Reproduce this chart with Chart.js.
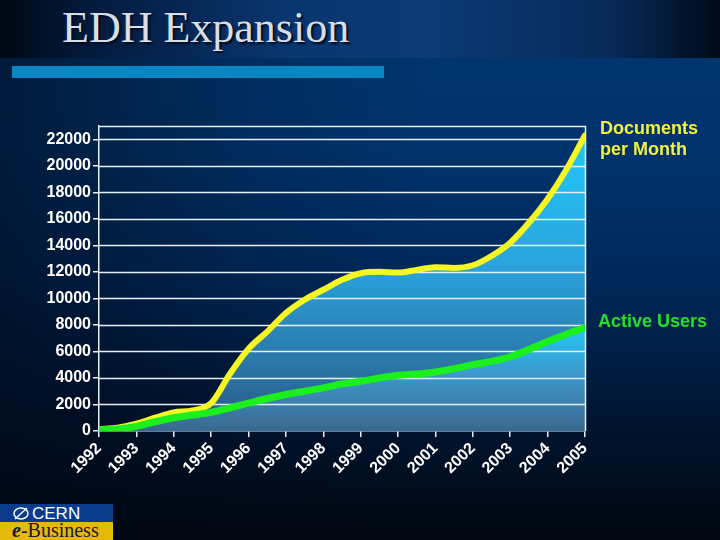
<!DOCTYPE html>
<html>
<head>
<meta charset="utf-8">
<script src="https://cdn.jsdelivr.net/npm/chart.js@4/dist/chart.umd.min.js"></script>
<style>
html,body{margin:0;padding:0;}
body{width:720px;height:540px;overflow:hidden;position:relative;
 background:
  linear-gradient(to right, rgba(0,6,18,0.55) 0%, rgba(0,6,18,0.15) 35%, rgba(0,6,18,0) 60%),
  linear-gradient(to bottom, #00356f 0px, #00336c 150px, #00285a 280px, #001634 410px, #00070f 540px);}
#band{position:absolute;left:0;top:0;width:720px;height:58px;
 background:linear-gradient(to right,#000812 0%,#031a3c 12%,#0a3670 40%,#0b3a76 60%,#072a58 85%,#000a18 100%);}
#title{position:absolute;left:62px;top:2px;font-family:"Liberation Serif","Times New Roman",serif;font-size:44px;
 color:#d9dde5;text-shadow:2px 2px 2px #000a1e;white-space:nowrap;line-height:52px;}
#bar{position:absolute;left:12px;top:66px;width:372px;height:12px;background:#0a86c2;}
canvas{position:absolute;left:0;top:0;}
.lab{position:absolute;font-family:"Liberation Sans",Arial,sans-serif;font-weight:bold;font-size:18px;line-height:21px;white-space:nowrap;}
#docs{left:600px;top:118px;color:#f2f23a;}
#users{left:598px;top:311px;color:#22e028;}
#cern{position:absolute;left:0;top:504px;width:113px;height:18px;background:#0b3c8c;}
#cern span{position:absolute;left:32px;top:0px;color:#fff;font-family:"Liberation Sans",Arial,sans-serif;font-size:17px;line-height:19px;}
#ebiz{position:absolute;left:0;top:522px;width:113px;height:18px;background:#e5b90a;overflow:hidden;}
#ebiz span{position:absolute;left:12px;top:-3px;color:#1a1a3c;font-family:"Liberation Serif","Times New Roman",serif;font-size:20px;line-height:22px;}
</style>
</head>
<body>
<div id="band"></div>
<div id="title">EDH Expansion</div>
<div id="bar"></div>
<canvas id="c" width="720" height="540"></canvas>
<div class="lab" id="docs">Documents<br>per Month</div>
<div class="lab" id="users">Active Users</div>
<div id="cern"><svg style="position:absolute;left:12px;top:2px" width="18" height="15"><ellipse cx="9" cy="7.5" rx="7" ry="5.5" fill="none" stroke="#fff" stroke-width="1.4"/><line x1="3" y1="13" x2="15" y2="2" stroke="#fff" stroke-width="1.4"/></svg><span>CERN</span></div>
<div id="ebiz"><span><i><b>e</b></i>-Business</span></div>
<script>
// ---- data ----
const years = [1992,1993,1994,1995,1996,1997,1998,1999,2000,2001,2002,2003,2004,2005];
const samplePoints = [1992,1992.5,1993,1993.5,1994,1994.5,1995,1995.5,1996,1996.5,1997,1997.5,1998,1998.5,1999,1999.5,2000,2000.5,2001,2001.5,2002,2002.5,2003,2003.5,2004,2004.5,2005];
const documentsPerMonth = [150,250,550,1000,1400,1550,2100,4300,6200,7500,8900,9900,10650,11400,11900,12000,11950,12150,12350,12300,12500,13200,14200,15700,17500,19700,22300];
const activeUsers = [100,150,350,700,1000,1200,1400,1750,2100,2450,2750,3000,3250,3550,3750,4000,4200,4300,4450,4700,5000,5250,5600,6150,6750,7300,7800];
const yTicks = [0,2000,4000,6000,8000,10000,12000,14000,16000,18000,20000,22000];
const seriesNames = ['Active Users','Documents per Month'];

const toPts = arr => arr.map((v,i)=>({x:samplePoints[i], y:v}));

function gradA(ctx){
  const c = ctx.chart, a = c.chartArea;
  if(!a) return '#2a8cc8';
  const g = c.ctx.createLinearGradient(0,a.top,0,a.bottom);
  g.addColorStop(0,'#1fcbfa');
  g.addColorStop(0.45,'#2aa4de');
  g.addColorStop(1,'#2b5884');
  return g;
}
function gradB(ctx){
  const c = ctx.chart, a = c.chartArea;
  if(!a) return '#3a8cc0';
  const y = c.scales.y;
  const top = y.getPixelForValue(Math.max(...activeUsers));
  const g = c.ctx.createLinearGradient(0,top,0,a.bottom);
  g.addColorStop(0,'#22c6f6');
  g.addColorStop(0.45,'#3d98cc');
  g.addColorStop(1,'#3a6890');
  return g;
}

const gridPlugin = {
  id:'gridOver',
  afterDatasetDraw(chart,args){
    if(args.index!==2) return;
    const {ctx, chartArea:a, scales:{y}} = chart;
    ctx.save();
    ctx.strokeStyle='#e6f0f8';
    ctx.lineWidth=1.5;
    yTicks.forEach(v=>{
      if(v===0) return;
      const py = Math.round(y.getPixelForValue(v))+0.5;
      ctx.beginPath(); ctx.moveTo(a.left,py); ctx.lineTo(a.right,py); ctx.stroke();
    });
    ctx.beginPath();
    ctx.moveTo(a.left,a.top+0.5); ctx.lineTo(a.right+0.5,a.top+0.5); ctx.lineTo(a.right+0.5,a.bottom);
    ctx.stroke();
    ctx.restore();
  }
};

const font = {family:'"Liberation Sans", Arial, sans-serif', size:16, weight:'bold'};

new Chart(document.getElementById('c'),{
  type:'line',
  data:{datasets:[
    {label:seriesNames[0], data:toPts(activeUsers), borderColor:'#1cf01c', borderWidth:7, fill:false, pointRadius:0, cubicInterpolationMode:'monotone'},
    {label:seriesNames[1], data:toPts(documentsPerMonth), borderColor:'#f6f622', borderWidth:6, fill:false, pointRadius:0, cubicInterpolationMode:'monotone'},
    {label:'fillUsers', data:toPts(activeUsers), borderColor:'rgba(0,0,0,0)', borderWidth:0, backgroundColor:gradB, fill:'origin', pointRadius:0, cubicInterpolationMode:'monotone'},
    {label:'fillDocs', data:toPts(documentsPerMonth), borderColor:'rgba(0,0,0,0)', borderWidth:0, backgroundColor:gradA, fill:2, pointRadius:0, cubicInterpolationMode:'monotone'}
  ]},
  options:{
    responsive:false, animation:false,
    layout:{padding:{top:126,right:135,left:0,bottom:0}},
    plugins:{legend:{display:false}, tooltip:{enabled:false}},
    elements:{line:{borderCapStyle:'round', borderJoinStyle:'round'}},
    scales:{
      x:{type:'linear', min:1992, max:2005,
        afterBuildTicks:s=>{s.ticks = years.map(v=>({value:v}));},
        afterFit:s=>{s.height=109;},
        grid:{drawOnChartArea:false, drawTicks:true, tickLength:6, color:'#e6f0f8', lineWidth:1.5},
        border:{display:true, color:'#cfe6f5', width:1.5},
        ticks:{color:'#ffffff', font:font, minRotation:45, maxRotation:45, padding:2, autoSkip:false,
          callback:v=>String(v)}
      },
      y:{type:'linear', min:0, max:23000,
        afterBuildTicks:s=>{s.ticks = yTicks.map(v=>({value:v}));},
        afterFit:s=>{s.width=99;},
        grid:{drawOnChartArea:false, drawTicks:true, tickLength:6, color:'#e6f0f8', lineWidth:1.5},
        border:{display:true, color:'#e6f0f8', width:1.5},
        ticks:{color:'#ffffff', font:font, padding:2, callback:v=>String(v)}
      }
    }
  },
  plugins:[gridPlugin]
});
</script>
</body>
</html>
